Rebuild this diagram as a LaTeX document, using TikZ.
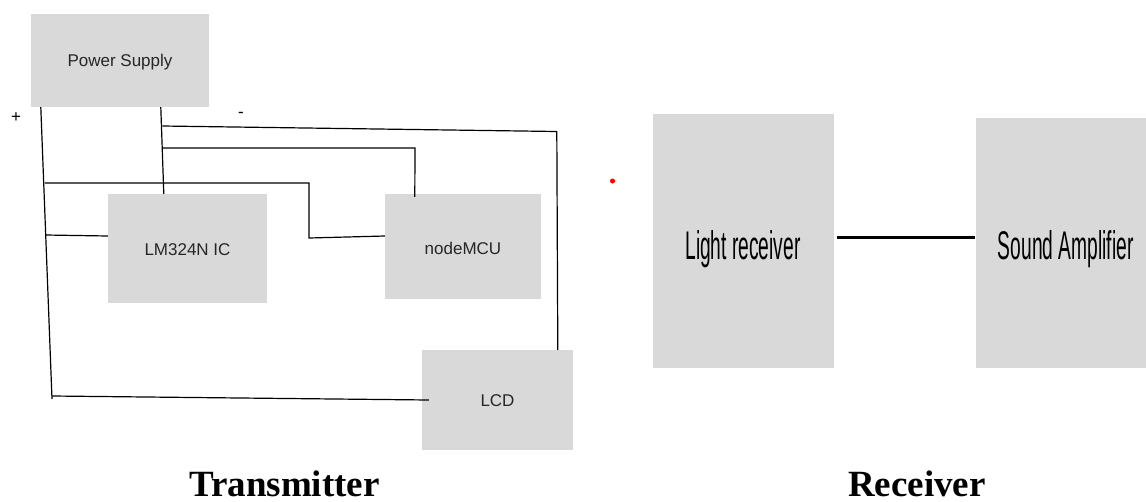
\documentclass[tikz,border=0pt]{standalone}
\usepackage{fontspec}
\usepackage{graphicx}
\setmainfont{Liberation Sans}
\newfontfamily\titlefont{Liberation Serif}
\tikzset{
    block/.style={fill=blockgray, inner sep=0pt, text depth=0pt, text=black!85, font=\fontsize{17}{20}\selectfont},
    wire/.style={black, line width=1.2pt},
    title/.style={anchor=base, text depth=0pt, font=\titlefont\bfseries\fontsize{37}{40}\selectfont}
}
\definecolor{blockgray}{HTML}{D9D9D9}
\begin{document}
\begin{tikzpicture}[x=1pt, y=-1pt]
    \useasboundingbox (0,0) rectangle (1146,501);

    % Transmisor
    \node[block, minimum width=178pt, minimum height=93pt, text height=11pt] (psu) at (120,60.5) {Power Supply};
    \node[block, minimum width=159pt, minimum height=109pt, text height=13pt] (lm) at (187.5,248.5) {LM324N IC};
    \node[block, minimum width=156pt, minimum height=105pt, text height=15pt] (mcu) at (463,246.5) {nodeMCU};
    \node[block, minimum width=151pt, minimum height=100pt, text height=13.4pt] (lcd) at (497.5,400) {LCD};
    \node (plus) at (16,118) {\fontsize{17}{20}\selectfont +};
    \node (minus) at (241,115) {\fontsize{17}{20}\selectfont -};

    % Puntos de union
    \coordinate (plusA) at (44.8,183);
    \coordinate (plusB) at (45.5,235);
    \coordinate (plusC) at (52,396);
    \coordinate (plusEnd) at (52,399);
    \coordinate (bendA) at (309,183);
    \coordinate (bendB) at (309,238);
    \coordinate (minusA) at (162.3,126);
    \coordinate (minusB) at (162.6,148);
    \coordinate (bendC) at (556.8,131.5);
    \coordinate (bendD) at (415,148);

    % Cables de +
    \draw[wire] ([xshift=10pt]psu.south west) -- (plusEnd);
    \draw[wire] (plusA) -- (bendA) -- (bendB) -- ([yshift=10.5pt]mcu.west);
    \draw[wire] (plusB) -- ([yshift=12.5pt]lm.west);
    \draw[wire] (plusC) -- ([xshift=7pt]lcd.west);

    % Cables de -
    \draw[wire] ([xshift=130pt]psu.south west) -- ([xshift=56pt]lm.north west);
    \draw[wire] (minusA) -- (bendC) -- ([xshift=136pt]lcd.north west);
    \draw[wire] (minusB) -- (bendD) -- ([xshift=30pt,yshift=-3pt]mcu.north west);

    % Receptor
    \fill[red] (612.5,181) circle (2.5pt);
    \node[block, text=black, minimum width=181pt, minimum height=254pt, text height=36pt] (light) at (743,241)
        {\scalebox{0.48}[1]{\fontsize{40}{44}\selectfont Light receiver}};
    \node[block, text=black, minimum width=170.5pt, minimum height=250pt, text height=32pt] (sound) at (1060.75,243)
        {\hspace*{10pt}\scalebox{0.48}[1]{\fontsize{40}{44}\selectfont Sound Amplifier}};
    \draw[black, line width=3pt] ([xshift=3pt,yshift=3.7pt]light.east) -- ([yshift=5.7pt]sound.west);

    % Titulos
    \node[title] (tx) at (284.5,496.5) {Transmitter};
    \node[title] (rx) at (917,496.5) {Receiver};
\end{tikzpicture}
\end{document}
